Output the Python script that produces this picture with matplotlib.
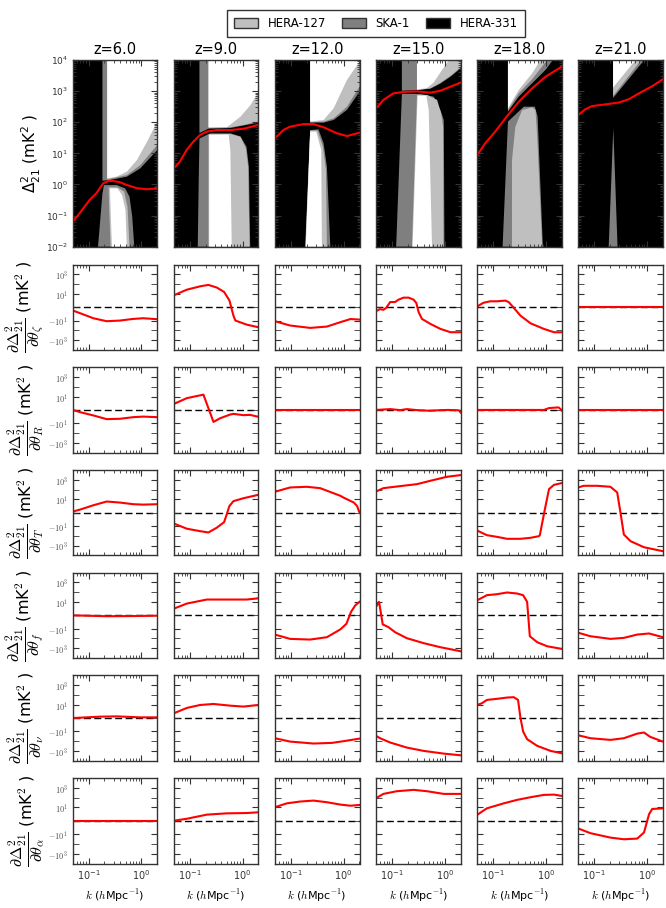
"""
21cm power spectrum panels (top row) and parameter derivatives (lower rows)
for six redshifts, with HERA-127 / SKA-1 / HERA-331 sensitivity regions.
"""

import matplotlib
matplotlib.use("Agg")
import matplotlib.pyplot as plt
from matplotlib.patches import Patch
from matplotlib.ticker import FixedLocator, NullFormatter

redshifts = [6.0, 9.0, 12.0, 15.0, 18.0, 21.0]
instruments = ["HERA-127", "SKA-1", "HERA-331"]
inst_colors = ["#bfbfbf", "#7f7f7f", "black"]

# fiducial Delta^2_21 (mK^2) per redshift
ps_k = [
    [0.05, 0.067, 0.084, 0.105, 0.14, 0.189, 0.235, 0.294, 0.394, 0.53, 0.824, 1.28, 2.0],
    [0.05, 0.065, 0.0875, 0.117, 0.157, 0.211, 0.327, 0.589, 1.06, 2.0],
    [0.05, 0.0722, 0.0968, 0.174, 0.269, 0.418, 0.75, 1.16, 2.0],
    [0.05, 0.069, 0.107, 0.166, 0.2985, 0.536, 0.83, 1.29, 2.0],
    [0.05, 0.0711, 0.11, 0.192, 0.307, 0.551, 0.989, 2.0],
    [0.05, 0.068, 0.0912, 0.164, 0.294, 0.456, 0.708, 1.27, 2.0],
]
ps_val = [
    [0.063, 0.117, 0.195, 0.32, 0.52, 1.09, 1.29, 1.29, 1.18, 0.96, 0.76, 0.7, 0.75],
    [3.3, 5.4, 12.8, 23.7, 39, 50, 56, 56, 62, 82],
    [30, 56, 72, 87, 87, 69, 44, 36, 46],
    [280, 520, 850, 940, 980, 890, 1030, 1390, 1880],
    [8.8, 21, 50, 170, 455, 1230, 2900, 6100],
    [170, 260, 330, 375, 430, 550, 850, 1450, 2400],
]

# regions (k, Delta^2 vertices) where each array can measure the signal
hera331_regions = [
    [([0.183, 0.183, 0.254, 0.53, 0.955, 2.0, 2.0], [1e4, 1.32, 1.39, 1.78, 3.3, 12.8, 1e4]),
     ([0.151, 0.168, 0.183, 0.195, 0.34, 0.492, 0.596, 0.67, 0.733],
      [0.01, 0.092, 0.52, 0.95, 0.96, 0.75, 0.40, 0.092, 0.01])],
    [([0.153, 0.153, 0.227, 0.589, 2.0, 2.0], [1e4, 45, 62, 65, 97, 1e4]),
     ([0.142, 0.148, 0.153, 0.244, 0.589, 0.914, 1.19, 1.32, 1.40],
      [0.01, 1.09, 30, 44, 44, 35, 16.4, 3.7, 0.01])],
    [([0.233, 0.233, 0.418, 0.647, 1.16, 2.0, 2.0], [1e4, 97, 97, 118, 250, 950, 1e4]),
     ([0.187, 0.233, 0.335, 0.418, 0.483, 0.56], [0.01, 56, 59, 21, 3.7, 0.01])],
    [([0.1545, 0.1545, 0.345, 0.536, 0.83, 1.29, 2.0, 2.0],
      [1e4, 1030, 1100, 1200, 1750, 2900, 5400, 1e4]),
     ([0.1205, 0.1545, 0.345, 0.62, 0.83, 0.961, 0.989], [0.01, 810, 810, 660, 245, 118, 0.01])],
    [([0.192, 0.192, 0.307, 0.551, 0.989, 1.36], [1e4, 218, 660, 1780, 4800, 1e4]),
     ([0.152, 0.192, 0.383, 0.62, 0.70, 0.88], [0.01, 105, 316, 316, 151, 0.01])],
    [([0.229, 0.229, 0.89], [1e4, 600, 1e4]),
     ([0.189, 0.231, 0.278], [0.01, 65, 0.01])],
]
ska1_regions = [
    [([0.225, 0.225, 0.53, 0.955, 2.0, 2.0], [1e4, 1.46, 2.0, 4.2, 18.6, 1e4]),
     ([0.261, 0.246, 0.239, 0.351, 0.471, 0.546, 0.596], [0.01, 0.15, 0.81, 0.81, 0.59, 0.19, 0.01])],
    [([0.227, 0.227, 0.589, 1.06, 2.0, 2.0], [1e4, 65, 69, 82, 105, 1e4]),
     ([0.227, 0.227, 0.589, 0.914, 1.16, 1.28, 1.36], [0.01, 41, 42, 34, 14.4, 3.7, 0.01])],
    [([0.233, 0.233, 0.418, 0.647, 1.16, 2.0, 2.0], [1e4, 100, 105, 133, 316, 1390, 1e4]),
     ([0.190, 0.233, 0.321, 0.405, 0.463, 0.483], [0.01, 54, 54, 16.4, 2.9, 0.01])],
    [([0.2985, 0.2985, 0.536, 0.83, 1.29, 2.0, 2.0], [1e4, 1080, 1230, 1850, 3100, 5800, 1e4]),
     ([0.2395, 0.2985, 0.462, 0.718, 0.855, 0.934, 0.947], [0.01, 755, 755, 520, 193, 72, 0.01])],
    [([0.192, 0.192, 0.307, 0.551, 1.06], [1e4, 245, 850, 2400, 1e4]),
     ([0.229, 0.229, 0.265, 0.356, 0.551, 0.638, 0.687, 0.855],
      [0.01, 6.1, 72, 245, 302, 245, 35, 0.01])],
    [([0.229, 0.229, 0.78], [1e4, 700, 1e4])],
]
hera127_regions = [
    [([0.225, 0.225, 0.34, 0.53, 0.824, 1.28, 2.0, 2.0], [1e4, 1.57, 1.78, 2.57, 6.1, 23.7, 105, 1e4]),
     ([0.277, 0.261, 0.254, 0.351, 0.431, 0.499, 0.53], [0.01, 0.15, 0.75, 0.75, 0.46, 0.15, 0.01])],
    [([0.227, 0.227, 0.508, 0.914, 1.42, 2.0, 2.0], [1e4, 69, 69, 151, 355, 955, 1e4]),
     ([0.234, 0.234, 0.547, 0.589, 0.625], [0.01, 40, 40, 12.8, 0.01])],
    [([0.233, 0.233, 0.418, 0.647, 1.16, 2.0, 2.0], [1e4, 105, 118, 280, 2300, 8800, 1e4]),
     ([0.192, 0.233, 0.303, 0.377, 0.388], [0.01, 50, 50, 12.8, 0.01])],
    [([0.2985, 0.2985, 0.46, 0.62, 0.893, 1.2], [1e4, 1130, 1250, 1900, 4800, 1e4]),
     ([0.2466, 0.307, 0.449, 0.498, 0.575], [0.01, 715, 715, 245, 0.01])],
    [([0.192, 0.192, 0.307, 0.551, 0.794], [1e4, 280, 1090, 3720, 1e4])],
    [([0.229, 0.229, 0.61], [1e4, 1300, 1e4])],
]

# derivatives d Delta^2_21 / d theta (mK^2), one list per redshift
zeta_k = [
    [0.05, 0.069, 0.123, 0.22, 0.393, 0.70, 1.08, 2.0],
    [0.05, 0.088, 0.158, 0.226, 0.326, 0.448, 0.565, 0.673, 0.733, 1.2, 2.0],
    [0.05, 0.097, 0.233, 0.483, 0.867, 1.35, 2.0],
    [0.05, 0.0597, 0.069, 0.078, 0.093, 0.115, 0.133, 0.166, 0.207, 0.258, 0.29, 0.321, 0.371,
     0.536, 0.83, 1.29, 2.0],
    [0.05, 0.0662, 0.0887, 0.119, 0.171, 0.198, 0.247, 0.33, 0.513, 0.92, 1.43, 2.0],
    [0.05, 2.0],
]
zeta_v = [
    [-0.92, -1.78, -5.8, -11.7, -10, -6.8, -5.8, -7.3],
    [7.3, 27, 60, 83, 45, 16, 2.2, -3.1, -10, -26, -48],
    [-11.7, -32, -56, -41, -14.6, -7, -8],
    [-1.09, -0.54, -0.73, -0.15, 1.5, 1.5, 2.6, 4.2, 4.2, 2.6, 1.2, -1.4, -6.8, -22, -71, -155, -155],
    [0.24, 1.27, 1.78, 1.78, 2.1, 1.5, -0.15, -3.1, -19, -71, -155, -157],
    [0, 0],
]
R_k = [
    [0.05, 0.069, 0.123, 0.22, 0.393, 0.70, 1.08, 2.0],
    [0.05, 0.088, 0.182, 0.282, 0.377, 0.582, 0.673, 1.04, 1.39, 2.0],
    [0.05, 2.0],
    [0.05, 0.093, 0.144, 0.192, 0.299, 0.536, 0.83, 1.2, 1.85, 2.0],
    [0.05, 0.92, 1.15, 1.74, 1.91, 2.0],
    [0.05, 2.0],
]
R_v = [
    [0, -0.63, -1.6, -3.8, -3.5, -2.4, -2.1, -2.4],
    [1.78, 7, 16, -7.3, -3.1, -1.3, -1.1, -1.5, -1.4, -2.2],
    [0, 0],
    [0, 0.24, -0.05, 0.24, -0.05, -0.24, -0.05, 0, -0.1, -0.73],
    [0, 0, 0.54, 0.73, 0.24, -0.15],
    [0, 0],
]
T_k = [
    [0.05, 0.069, 0.123, 0.22, 0.393, 0.70, 1.08, 2.0],
    [0.05, 0.088, 0.158, 0.226, 0.326, 0.448, 0.503, 0.565, 0.673, 1.04, 2.0],
    [0.05, 0.097, 0.201, 0.36, 0.867, 1.0, 1.56, 1.8, 2.0],
    [0.05, 0.069, 0.124, 0.299, 0.536, 1.11, 2.0],
    [0.05, 0.0766, 0.119, 0.184, 0.33, 0.513, 0.738, 0.771, 0.946, 1.15, 1.43, 2.0],
    [0.05, 0.0634, 0.114, 0.204, 0.274, 0.316, 0.366, 0.49, 0.88, 2.0],
]
T_v = [
    [0.29, 0.88, 2.5, 6, 4.7, 3.2, 2.9, 3.2],
    [-5.6, -19, -34, -46, -15, -4.1, -0.49, 2.1, 6.5, 13, 29],
    [59, 162, 190, 138, 23, 15, 4.7, 2.1, 0],
    [63, 138, 203, 355, 780, 2000, 2950],
    [-29, -87, -129, -204, -204, -162, -110, -87, 0.48, 110, 300, 450],
    [162, 240, 240, 190, 50, 0, -74, -355, -1480, -3700],
]
f_k = [
    [0.05, 0.22, 0.7, 2.0],
    [0.05, 0.088, 0.211, 0.503, 1.2, 2.0],
    [0.05, 0.097, 0.233, 0.483, 0.867, 1.13, 1.38, 1.67, 2.0],
    [0.05, 0.0571, 0.0671, 0.086, 0.115, 0.192, 0.4, 0.83, 2.0],
    [0.05, 0.0766, 0.119, 0.184, 0.286, 0.372, 0.443, 0.498, 0.687, 1.06, 2.0],
    [0.05, 0.085, 0.204, 0.366, 0.656, 1.1, 2.0],
]
f_v = [
    [0, -0.25, -0.2, -0.1],
    [2.1, 7, 18, 18, 18, 24],
    [-40, -110, -129, -74, -12, -3.2, 0.97, 4.7, 10.5],
    [3.2, 10.5, -3.7, -7, -23, -94, -300, -780, -2000],
    [15, 50, 63, 94, 74, 50, 10.5, -59, -240, -620, -1150],
    [-26, -59, -110, -87, -40, -31, -74],
]
nu_k = [
    [0.05, 0.165, 0.34, 0.94, 2.0],
    [0.05, 0.088, 0.158, 0.282, 0.582, 1.04, 2.0],
    [0.05, 0.097, 0.27, 0.6, 1.0, 2.0],
    [0.05, 0.0597, 0.093, 0.192, 0.4, 0.96, 2.0],
    [0.05, 0.0615, 0.0766, 0.119, 0.184, 0.247, 0.298, 0.33, 0.372, 0.443, 0.687, 1.23, 2.0],
    [0.05, 0.085, 0.204, 0.366, 0.656, 0.88, 1.15, 2.0],
]
nu_v = [
    [0, 0.4, 0.48, 0.2, 0.2],
    [1.35, 4.7, 9.5, 12, 8.1, 6.5, 9.5],
    [-50, -110, -174, -150, -100, -55],
    [-29, -50, -138, -450, -980, -1850, -2750],
    [9.5, 14, 31, 40, 54, 59, 31, 0.2, -10.5, -63, -300, -980, -1700],
    [-25, -50, -74, -50, -17, -13, -36, -110],
]
alpha_k = [
    [0.05, 2.0],
    [0.05, 0.088, 0.211, 0.503, 1.2, 2.0],
    [0.05, 0.0836, 0.15, 0.269, 0.483, 0.867, 1.35, 2.0],
    [0.05, 0.069, 0.124, 0.258, 0.462, 0.96, 2.0],
    [0.05, 0.0615, 0.0766, 0.159, 0.286, 0.513, 0.92, 1.43, 2.0],
    [0.05, 0.085, 0.204, 0.366, 0.656, 0.88, 1.1, 1.26, 2.0],
]
alpha_v = [
    [0, 0],
    [0, 0.57, 1.85, 2.5, 2.7, 3.2],
    [10.5, 26, 40, 50, 34, 19.6, 15, 18],
    [87, 240, 450, 620, 450, 240, 240],
    [1.7, 3.7, 8.1, 26, 59, 110, 190, 203, 150],
    [-2.7, -8.1, -23, -34, -29, -7, 2.1, 7, 8.1],
]

deriv_rows = [
    (r"\zeta", zeta_k, zeta_v),
    ("R", R_k, R_v),
    ("T", T_k, T_v),
    ("f", f_k, f_v),
    (r"\nu", nu_k, nu_v),
    (r"\alpha", alpha_k, alpha_v),
]

W, H = 666, 908
SPINE = "#333333"


def add_axes_px(fig, left, top, width, height):
    return fig.add_axes([left / W, 1 - (top + height) / H, width / W, height / H])


def style_axes(ax):
    for sp in ax.spines.values():
        sp.set_color(SPINE)
        sp.set_linewidth(1.0)
    ax.tick_params(which="both", direction="in", top=True, right=True,
                   color=SPINE, labelsize=7, labelcolor="#333333")
    ax.tick_params(which="major", length=4)
    ax.tick_params(which="minor", length=2)


def main() -> None:
    fig = plt.figure(figsize=(W / 100, H / 100), dpi=100)

    col_left = [72.7 + 101.1 * c for c in range(6)]
    col_w = 84.6

    # top row: power spectrum and sensitivity regions
    for i, z in enumerate(redshifts):
        ax = add_axes_px(fig, col_left[i], 60, col_w, 186.7)
        ax.set_facecolor(inst_colors[2])
        ax.set_xscale("log")
        ax.set_yscale("log")
        for k, p in hera331_regions[i]:
            ax.fill(k, p, color=inst_colors[1], lw=0)
        for k, p in ska1_regions[i]:
            ax.fill(k, p, color=inst_colors[0], lw=0)
        for k, p in hera127_regions[i]:
            ax.fill(k, p, color="white", lw=0)
        ax.plot(ps_k[i], ps_val[i], color="red", lw=1.5)
        ax.set_xlim(0.05, 2.0)
        ax.set_ylim(1e-2, 1e4)
        ax.set_yticks([1e-2, 1e-1, 1e0, 1e1, 1e2, 1e3, 1e4])
        style_axes(ax)
        ax.tick_params(axis="y", labelsize=6.5)
        ax.xaxis.set_major_formatter(NullFormatter())
        ax.xaxis.set_minor_formatter(NullFormatter())
        ax.set_title(f"z={z:.1f}", fontsize=10.5, pad=4)
        if i == 0:
            ax.set_ylabel(r"$\Delta^2_{21}$ (mK$^2$ )", fontsize=11, labelpad=2)
        else:
            ax.yaxis.set_major_formatter(NullFormatter())
        ax.yaxis.set_minor_formatter(NullFormatter())

    # derivative rows
    for r, (sym, ks, vs) in enumerate(deriv_rows):
        top = 264.5 + 102.7 * r
        for i in range(len(redshifts)):
            ax = add_axes_px(fig, col_left[i], top, col_w, 85.5)
            ax.set_xscale("log")
            ax.set_yscale("symlog", linthresh=1, linscale=0.32)
            ax.axhline(0, color="black", lw=1.0, ls=(0, (5, 2.5)), zorder=1)
            ax.plot(ks[i], vs[i], color="red", lw=1.5, zorder=2)
            ax.set_xlim(0.05, 2.0)
            ax.set_ylim(-1e4, 1e4)
            ax.yaxis.set_major_locator(FixedLocator([-1e3, -1e1, 1e1, 1e3]))
            ax.yaxis.set_minor_locator(FixedLocator([-1e2, 0, 1e2]))
            style_axes(ax)
            ax.tick_params(axis="y", which="minor", length=4)
            if i == 0:
                ax.set_yticklabels([r"$-10^{3}$", r"$-10^{1}$", r"$10^{1}$", r"$10^{3}$"],
                                   math_fontfamily="cm", fontsize=6, color="#555555")
                ax.set_ylabel(
                    r"$\dfrac{\partial\Delta_{21}^2}{\partial\theta_{" + sym + r"}}$ (mK$^2$ )",
                    fontsize=11.5, math_fontfamily="cm", labelpad=1)
            else:
                ax.set_yticklabels([])
            ax.yaxis.set_minor_formatter(NullFormatter())
            ax.xaxis.set_minor_formatter(NullFormatter())
            if r == len(deriv_rows) - 1:
                ax.set_xlabel(r"$k$ ($h$Mpc$^{-1}$)", fontsize=8, math_fontfamily="cm")
            else:
                ax.xaxis.set_major_formatter(NullFormatter())

    handles = [Patch(facecolor=c, edgecolor=SPINE, label=n)
               for n, c in zip(instruments, inst_colors)]
    fig.legend(handles=handles, loc="center", bbox_to_anchor=(376 / W, 1 - 23.5 / H),
               ncol=3, fontsize=8.5, fancybox=False, edgecolor="black",
               handlelength=2.0, handleheight=0.9, handletextpad=0.8,
               columnspacing=1.4, borderpad=0.6)

    fig.savefig("out.png", dpi=100)


if __name__ == "__main__":
    main()
